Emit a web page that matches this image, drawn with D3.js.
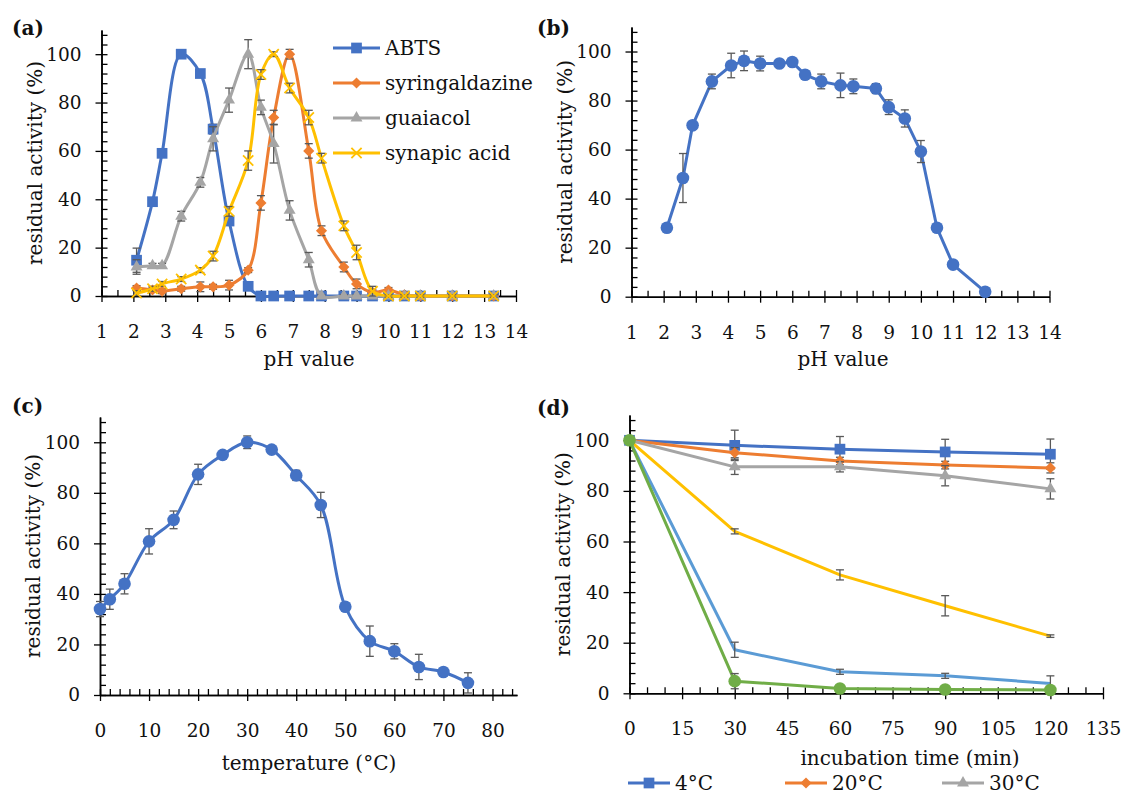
<!DOCTYPE html>
<html>
<head>
<meta charset="utf-8">
<script src="https://cdn.jsdelivr.net/npm/d3@7"></script>
<style>
body { margin: 0; background: #fff; }
svg text { font-family: "DejaVu Serif", serif; fill: #111; }
</style>
</head>
<body>
<script>
// ---- data ----
// (a) pH profile, four substrates
var phA = [2.1, 2.6, 2.9, 3.5, 4.1, 4.5, 5.0, 5.6, 6.0, 6.4, 6.9, 7.5, 7.9, 8.6, 9.0, 9.5, 10.0, 10.5, 11.0, 12.0, 13.3];
var abts    = [14.8, 39, 59, 100, 92, 69, 31, 4, 0, 0, 0, 0, 0, 0, 0, 0, 0, 0, 0, 0, 0];
var abtsErr = [5, 1, 1, 1.5, 1, 2, 1, 1, 0.5, 0.5, 0.5, 0.5, 0.5, 0.5, 0.5, 0.5, 0.5, 0.5, 0.5, 0.5, 0.5];
var syr     = [3.3, 2.5, 2, 3, 3.8, 3.8, 4.5, 10.7, 38.5, 73.8, 100, 60, 27, 12, 5, 1.5, 2.5, 0.5, 0, 0, 0];
var syrErr  = [1, 1, 1, 1, 2, 1, 2, 1, 3, 3, 2, 3, 2, 2, 2, 1, 1, 0.5, 0.5, 0.5, 0.5];
var gua     = [12, 12.5, 12.5, 33, 47, 65, 81, 100, 78, 63, 35.4, 15, 0, 0, 0, 0, 0, 0, 0, 0, 0];
var guaErr  = [3, 1, 1, 2, 2, 5, 5, 6, 3, 8, 4, 3, 0.5, 0.5, 0.5, 0.5, 0.5, 0.5, 0.5, 0.5, 0.5];
var syn     = [1.2, 3, 5, 7, 10.7, 16.5, 35, 56, 91.6, 100, 86, 73.8, 57, 29, 18, 2, 0, 0, 0, 0, 0];
var synErr  = [1, 1, 1, 1, 1, 2, 2, 4, 2, 1, 2, 3, 2, 2, 3, 2, 0.5, 0.5, 0.5, 0.5, 0.5];
var substrates = ["ABTS", "syringaldazine", "guaiacol", "synapic acid"];

// (b) pH stability
var phB  = [2.1, 2.6, 2.9, 3.5, 4.1, 4.5, 5.0, 5.6, 6.0, 6.4, 6.9, 7.5, 7.9, 8.6, 9.0, 9.5, 10.0, 10.5, 11.0, 12.0];
var actB = [28.1, 48.4, 69.9, 87.8, 94.3, 96.2, 95.1, 95.1, 95.7, 90.5, 87.8, 86.2, 85.8, 84.9, 77.3, 72.7, 59.2, 28.1, 13.1, 2];
var errB = [0, 10, 1.5, 3, 5, 4, 3, 1, 0.5, 1, 3, 5, 3, 2, 3, 3.5, 4.5, 0.5, 0, 0];

// (c) temperature profile
var temp = [0, 2, 5, 10, 15, 20, 25, 30, 35, 40, 45, 50, 55, 60, 65, 70, 75];
var actC = [34, 37.9, 44, 60.8, 69.3, 87.3, 95, 100, 97.1, 86.9, 75.2, 34.9, 21.3, 17.3, 11.1, 9.1, 4.8];
var errC = [3, 4, 4, 5, 3.5, 4, 1, 2.5, 1, 2, 5, 0.5, 6, 3, 5, 0.5, 4];

// (d) thermal stability over time
var time  = [0, 30, 60, 90, 120];
var d4    = [100, 98, 96.5, 95.4, 94.5],  d4Err  = [0.5, 6, 5, 5, 6];
var d20   = [100, 95.1, 91.8, 90.2, 89.1], d20Err = [0.5, 2, 1.5, 1.5, 2];
var d30   = [100, 89.5, 89.5, 86, 80.8],  d30Err = [0.5, 3, 2, 4, 4];
var d40   = [100, 64, 46.8, 34.6, 22.6],  d40Err = [0.5, 1, 2, 4, 0.5];
var d50   = [100, 17.2, 8.5, 6.9, 3.9],   d50Err = [0.5, 3, 1, 1, 3];
var d60   = [100, 4.8, 1.9, 1.5, 1.3],    d60Err = [0.5, 3, 0.5, 0.5, 0.5];
var tempLegend = ["4°C", "20°C", "30°C"];

// axis ticks
var phTicks   = [1, 2, 3, 4, 5, 6, 7, 8, 9, 10, 11, 12, 13, 14];
var tempTicks = [0, 10, 20, 30, 40, 50, 60, 70, 80];
var timeTicks = [0, 15, 30, 45, 60, 75, 90, 105, 120, 135];
var yTicks    = [0, 20, 40, 60, 80, 100];

var blue = "#4472C4", orange = "#ED7D31", gray = "#A5A5A5",
    yellow = "#FFC000", lblue = "#5B9BD5", green = "#70AD47";

var svg = d3.select("body").append("svg")
    .attr("width", 1121)
    .attr("height", 794);

svg.append("rect").attr("width", 1121).attr("height", 794).attr("fill", "#fff");

function panel(p) {
  var x = d3.scaleLinear().domain(p.xDomain).range([p.left, p.right]);
  var y = d3.scaleLinear().domain([0, 110]).range([p.bottom, p.top]);

  // inner (minor + major) ticks
  svg.append("g").attr("class", "ax")
      .attr("transform", "translate(0," + p.bottom + ")")
      .call(d3.axisBottom(x).tickValues(p.xMinor).tickSize(-6).tickSizeOuter(0).tickFormat(""));
  svg.append("g").attr("class", "ax")
      .attr("transform", "translate(" + p.left + ",0)")
      .call(d3.axisLeft(y).tickValues(d3.range(0, 110, 4)).tickSize(-6).tickSizeOuter(0).tickFormat(""));

  // outer major ticks + labels
  svg.append("g").attr("class", "ax")
      .attr("transform", "translate(0," + p.bottom + ")")
      .call(d3.axisBottom(x).tickValues(p.xMajor).tickSize(6).tickSizeOuter(0).tickPadding(23));
  svg.append("g").attr("class", "ax")
      .attr("transform", "translate(" + p.left + ",0)")
      .call(d3.axisLeft(y).tickValues(yTicks).tickSize(6).tickSizeOuter(0).tickPadding(14));

  // y title
  svg.append("text")
      .attr("transform", "translate(" + (p.left - 67) + "," + ((p.top + p.bottom) / 2) + ") rotate(-90)")
      .attr("text-anchor", "middle")
      .attr("dominant-baseline", "central")
      .attr("font-size", 20)
      .text("residual activity (%)");
  // x title
  svg.append("text")
      .attr("x", p.xTitleX).attr("y", p.xTitleY)
      .attr("text-anchor", "middle")
      .attr("dominant-baseline", "central")
      .attr("font-size", 20)
      .text(p.xTitle);
  // panel letter
  svg.append("text")
      .attr("x", p.labelX).attr("y", p.labelY)
      .attr("font-size", 20)
      .attr("font-weight", "bold")
      .text(p.label);

  return {x: x, y: y};
}

function marker(kind) {
  if (kind == "square") return d3.symbol().type(d3.symbolSquare).size(115)();
  if (kind == "diamond") return d3.symbol().type(d3.symbolSquare).size(62)();
  if (kind == "triangle") return d3.symbol().type(d3.symbolTriangle).size(62)();
  if (kind == "circle") return d3.symbol().type(d3.symbolCircle).size(125)();
  if (kind == "x") return d3.symbol().type(d3.symbolTimes).size(70)();
  return null;
}

function drawMarker(g, kind, color, cx, cy) {
  var m = g.append("path")
      .attr("d", marker(kind))
      .attr("transform", "translate(" + cx + "," + cy + ")" + (kind == "diamond" ? " rotate(45)" : ""));
  if (kind == "x") m.attr("fill", "none").attr("stroke", color).attr("stroke-width", 1.8);
  else m.attr("fill", color);
}

function series(P, xs, ys, errs, color, kind, curve) {
  var g = svg.append("g");
  var line = d3.line()
      .x(function(d, i) { return P.x(xs[i]); })
      .y(function(d) { return P.y(d); })
      .curve(curve);
  g.append("path")
      .datum(ys)
      .attr("d", line)
      .attr("fill", "none")
      .attr("stroke", color)
      .attr("stroke-width", 3)
      .attr("stroke-linejoin", "round");

  // error bars
  ys.forEach(function(v, i) {
    var e = errs[i];
    if (!e) return;
    var cx = P.x(xs[i]), y1 = P.y(v - e), y2 = P.y(v + e);
    g.append("line").attr("x1", cx).attr("x2", cx).attr("y1", y1).attr("y2", y2);
    g.append("line").attr("x1", cx - 4).attr("x2", cx + 4).attr("y1", y1).attr("y2", y1);
    g.append("line").attr("x1", cx - 4).attr("x2", cx + 4).attr("y1", y2).attr("y2", y2);
  });
  g.selectAll("line").attr("stroke", "#595959").attr("stroke-width", 1.3);

  if (kind) {
    ys.forEach(function(v, i) { drawMarker(g, kind, color, P.x(xs[i]), P.y(v)); });
  }
}

function legendEntry(x0, x1, y, color, kind, label) {
  var g = svg.append("g");
  g.append("line").attr("x1", x0).attr("x2", x1).attr("y1", y).attr("y2", y)
      .attr("stroke", color).attr("stroke-width", 3);
  drawMarker(g, kind, color, (x0 + x1) / 2, y);
  g.append("text").attr("x", x1 + 5).attr("y", y)
      .attr("dominant-baseline", "central")
      .attr("font-size", 20)
      .text(label);
}

var smooth = d3.curveCatmullRom;

// ---- (a) ----
var A = panel({xDomain: [1, 14], left: 101.5, right: 516, top: 30, bottom: 296,
  xMajor: phTicks, xMinor: d3.range(1, 14.01, 0.5),
  xTitle: "pH value", xTitleX: 309, xTitleY: 359, label: "(a)", labelX: 12, labelY: 35});
series(A, phA, abts, abtsErr, blue, "square", smooth);
series(A, phA, syr, syrErr, orange, "diamond", smooth);
series(A, phA, gua, guaErr, gray, "triangle", smooth);
series(A, phA, syn, synErr, yellow, "x", smooth);
var legA = [[blue, "square"], [orange, "diamond"], [gray, "triangle"], [yellow, "x"]];
legA.forEach(function(l, i) { legendEntry(333, 380, 48 + i * 35, l[0], l[1], substrates[i]); });

// ---- (b) ----
var B = panel({xDomain: [1, 14], left: 631.5, right: 1049.5, top: 27, bottom: 296.7,
  xMajor: phTicks, xMinor: d3.range(1, 14.01, 0.5),
  xTitle: "pH value", xTitleX: 843, xTitleY: 359, label: "(b)", labelX: 537, labelY: 35});
series(B, phB, actB, errB, blue, "circle", d3.curveLinear);

// ---- (c) ----
var C = panel({xDomain: [0, 85], left: 100, right: 517, top: 417, bottom: 695,
  xMajor: tempTicks, xMinor: d3.range(0, 85, 2),
  xTitle: "temperature (°C)", xTitleX: 309, xTitleY: 763, label: "(c)", labelX: 12, labelY: 413});
series(C, temp, actC, errC, blue, "circle", smooth);

// ---- (d) ----
var D = panel({xDomain: [0, 135], left: 629.5, right: 1103, top: 415, bottom: 693.3,
  xMajor: timeTicks, xMinor: d3.range(0, 135.1, 5),
  xTitle: "incubation time (min)", xTitleX: 910, xTitleY: 758, label: "(d)", labelX: 537, labelY: 415});
series(D, time, d4, d4Err, blue, "square", d3.curveLinear);
series(D, time, d20, d20Err, orange, "diamond", d3.curveLinear);
series(D, time, d30, d30Err, gray, "triangle", d3.curveLinear);
series(D, time, d40, d40Err, yellow, null, d3.curveLinear);
series(D, time, d50, d50Err, lblue, null, d3.curveLinear);
series(D, time, d60, d60Err, green, "circle", d3.curveLinear);
var legD = [[blue, "square"], [orange, "diamond"], [gray, "triangle"]];
legD.forEach(function(l, i) { legendEntry(628 + i * 157, 670 + i * 157, 783, l[0], l[1], tempLegend[i]); });

// axis styling
svg.selectAll(".ax").attr("font-size", 18.5).attr("font-family", "DejaVu Serif, serif");
svg.selectAll(".ax .domain").attr("stroke", "#000").attr("stroke-width", 1.5);
svg.selectAll(".ax .tick line").attr("stroke", "#000").attr("stroke-width", 1.3);
svg.selectAll(".ax .tick text").attr("fill", "#111");
</script>
</body>
</html>
